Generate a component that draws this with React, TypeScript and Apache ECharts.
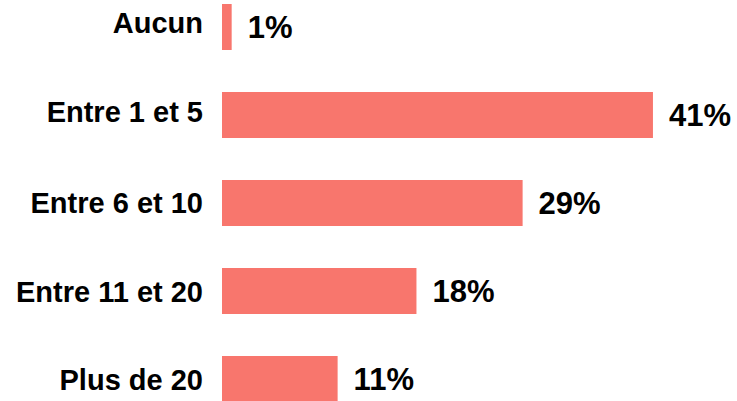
import React, { useEffect, useRef } from "react";
import * as echarts from "echarts";

const categories = ["Aucun", "Entre 1 et 5", "Entre 6 et 10", "Entre 11 et 20", "Plus de 20"];
const values = [0.92, 41.0, 28.6, 18.5, 11.0];
const valueLabels = ["1%", "41%", "29%", "18%", "11%"];
// small vertical nudge of each category label (px, positive = up)
const labelShift = [4.5, 3.3, 0, -1.2, -1];

const labelFont = {
  color: "#000000",
  fontFamily: "Liberation Sans, Arial, sans-serif",
  fontWeight: "bold",
  fontSize: 29,
};

export default function App() {
  const ref = useRef<HTMLDivElement>(null);
  useEffect(() => {
    document.body.style.margin = "0";
    const chart = echarts.init(ref.current!, null, { renderer: "svg" });
    const rich: Record<string, any> = {};
    labelShift.forEach((s, i) => {
      rich["c" + i] = {
        ...labelFont,
        padding: s >= 0 ? [0, 0, 2 * s, 0] : [-2 * s, 0, 0, 0],
      };
    });
    chart.setOption({
      animation: false,
      backgroundColor: "#ffffff",
      grid: {
        left: 222,
        top: -17,
        width: 473,
        height: 440,
        containLabel: false,
        outerBoundsMode: "none",
      },
      xAxis: {
        type: "value",
        min: 0,
        max: 45,
        show: false,
      },
      yAxis: {
        type: "category",
        data: categories,
        inverse: true,
        axisLine: { show: false },
        axisTick: { show: false },
        splitLine: { show: false },
        axisLabel: {
          margin: 19,
          ...labelFont,
          formatter: (v: string, i: number) => `{c${i}|${v}}`,
          rich,
        },
      },
      series: [
        {
          type: "bar",
          data: values,
          barWidth: 46,
          itemStyle: { color: "#F8766D" },
          label: {
            show: true,
            position: "right",
            distance: 16,
            color: "#000000",
            fontFamily: "Liberation Sans, Arial, sans-serif",
            fontWeight: "bold",
            fontSize: 31,
            formatter: (p: any) => valueLabels[p.dataIndex],
          },
        },
      ],
    });
    return () => chart.dispose();
  }, []);
  return <div ref={ref} style={{ width: 737, height: 401 }} />;
}
